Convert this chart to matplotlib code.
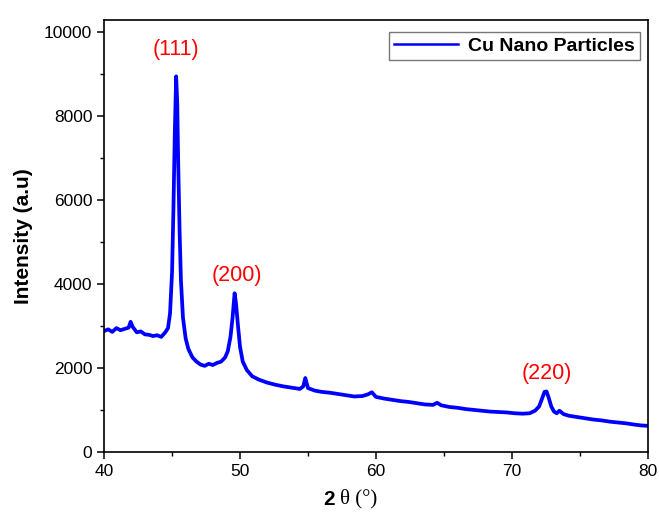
import matplotlib

matplotlib.use("Agg")
import matplotlib.pyplot as plt
from matplotlib.ticker import MultipleLocator

# values (2theta in degrees, intensity in a.u.)
two_theta = [
    40.0, 40.3, 40.6, 40.9, 41.2, 41.5, 41.8, 41.95, 42.1, 42.4, 42.7, 43.0, 43.3,
    43.6, 43.9, 44.2, 44.5, 44.7, 44.85, 45.0, 45.1, 45.2, 45.3, 45.38, 45.45,
    45.55, 45.65, 45.8, 46.0, 46.2, 46.5, 46.8, 47.1, 47.4, 47.7, 48.0, 48.3,
    48.6, 48.9, 49.1, 49.3, 49.45, 49.6, 49.7, 49.85, 50.0, 50.2, 50.5, 50.9,
    51.4, 52.0, 52.6, 53.2, 53.8, 54.4, 54.65, 54.8, 55.0, 55.5, 56.0, 56.6,
    57.2, 57.8, 58.4, 59.0, 59.4, 59.7, 60.0, 60.6, 61.2, 61.8, 62.4, 63.0,
    63.6, 64.2, 64.5, 64.8, 65.4, 66.0, 66.6, 67.2, 67.8, 68.4, 69.0, 69.6,
    70.2, 70.8, 71.3, 71.7, 72.0, 72.2, 72.4, 72.55, 72.7, 72.9, 73.1, 73.3,
    73.5, 73.8, 74.2, 74.8, 75.4, 76.0, 76.6, 77.2, 77.8, 78.4, 79.0, 79.5, 80.0,
]
intensity = [
    2880, 2920, 2860, 2950, 2900, 2930, 2960, 3100, 2980, 2850, 2870, 2800, 2790,
    2760, 2780, 2740, 2850, 2950, 3300, 4300, 5800, 7600, 8950, 8300, 6900,
    5300, 4100, 3200, 2700, 2450, 2250, 2150, 2080, 2050, 2100, 2070, 2120,
    2150, 2250, 2400, 2750, 3200, 3780, 3550, 3000, 2500, 2150, 1950, 1800,
    1720, 1650, 1600, 1560, 1530, 1500, 1560, 1760, 1520, 1460, 1430, 1410,
    1380, 1350, 1320, 1330, 1370, 1420, 1310, 1270, 1240, 1210, 1190, 1160,
    1130, 1120, 1170, 1110, 1070, 1050, 1020, 1000, 980, 960, 950, 940,
    920, 910, 920, 980, 1080, 1250, 1430, 1440, 1300, 1080, 960, 920,
    980, 900, 860, 830, 800, 770, 750, 720, 700, 680, 650, 630, 620,
]

peak_labels = ["(111)", "(200)", "(220)"]
peak_pos = [(45.3, 9330), (49.8, 3950), (72.6, 1620)]

plt.rcParams["font.family"] = ["Liberation Sans", "DejaVu Sans"]

fig = plt.figure(figsize=(6.59, 5.17), dpi=100)
ax = fig.add_axes([0.158, 0.126, 0.825, 0.835])

ax.plot(two_theta, intensity, color="#0000ff", linewidth=2.7, label="Cu Nano Particles")

for label, (px, py) in zip(peak_labels, peak_pos):
    ax.text(px, py, label, color="red", fontsize=15.5, ha="center", va="bottom")

ax.set_xlim(40, 80)
ax.set_ylim(0, 10290)
ax.xaxis.set_major_locator(MultipleLocator(10))
ax.xaxis.set_minor_locator(MultipleLocator(5))
ax.yaxis.set_major_locator(MultipleLocator(2000))
ax.yaxis.set_minor_locator(MultipleLocator(1000))
ax.tick_params(which="major", direction="out", length=5, width=1.1, labelsize=12.5)
ax.tick_params(which="minor", direction="out", length=3, width=1.0)
for sp in ax.spines.values():
    sp.set_linewidth(1.2)

ax.set_ylabel("Intensity (a.u)", fontsize=15, fontweight="bold", labelpad=8)

# x label: bold sans "2", serif "θ (°)"
fig.text(0.508, 0.016, "2", fontsize=15, fontweight="bold", ha="right", va="bottom")
fig.text(0.516, 0.016, "θ (°)", fontsize=15, family="Liberation Serif", ha="left", va="bottom")

leg = ax.legend(loc="upper right", prop={"weight": "bold", "size": 14},
                frameon=True, fancybox=False, handlelength=3.3, borderpad=0.25,
                handletextpad=0.5, borderaxespad=0, bbox_to_anchor=(0.985, 0.972))
leg.get_frame().set_edgecolor("#555555")
leg.get_frame().set_linewidth(1.0)
for line in leg.get_lines():
    line.set_linewidth(1.8)

fig.savefig("out.png", dpi=100)
